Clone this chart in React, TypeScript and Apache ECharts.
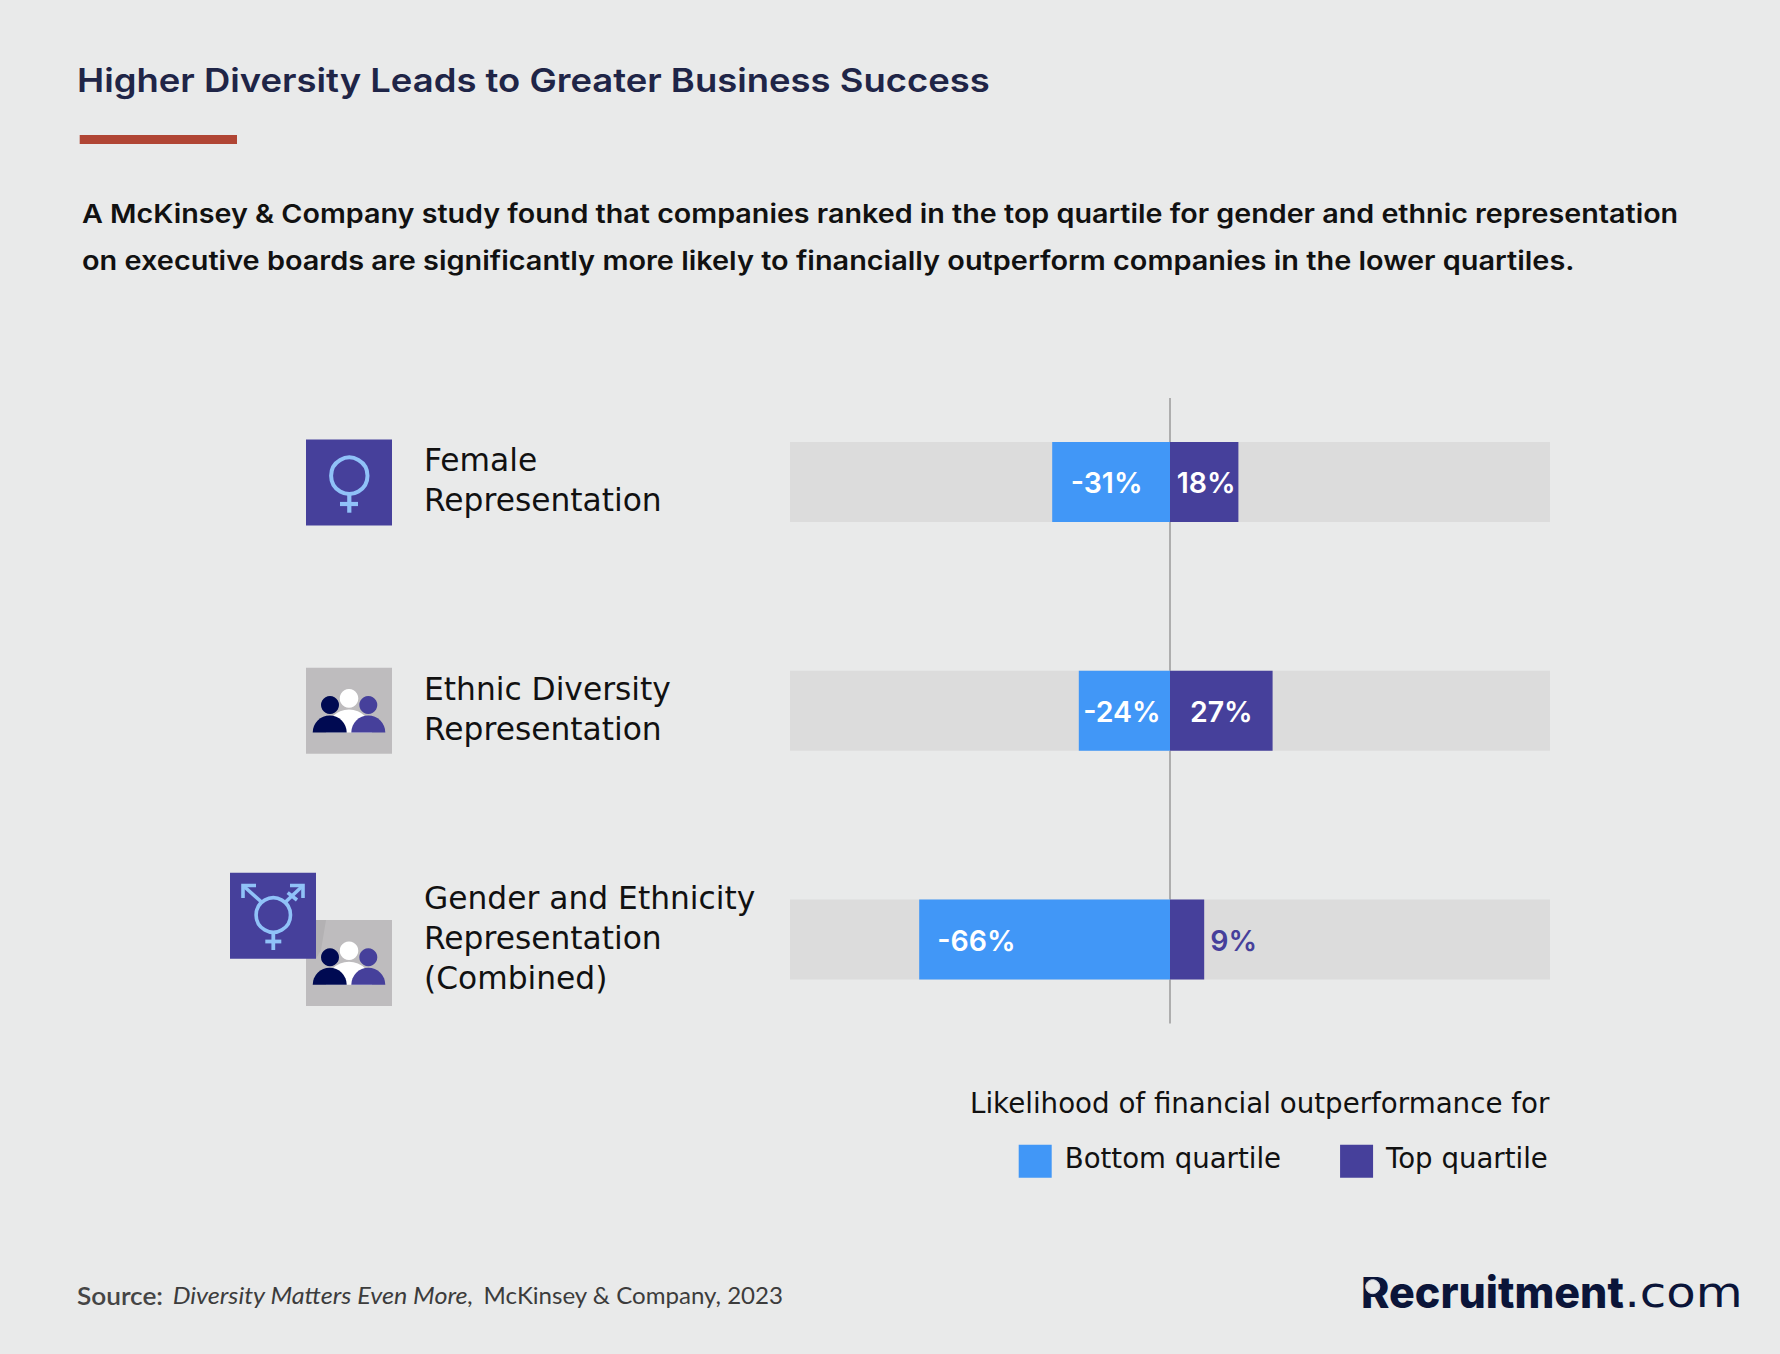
import React, { useEffect, useRef } from "react";
import * as echarts from "echarts";

const categories = ["Female\nRepresentation", "Ethnic Diversity\nRepresentation", "Gender and Ethnicity\nRepresentation\n(Combined)"];
const bottomQuartile = [-31, -24, -66];
const topQuartile = [18, 27, 9];
const titleText = "Higher Diversity Leads to Greater Business Success";
const introLines = [
  "A McKinsey & Company study found that companies ranked in the top quartile for gender and ethnic representation",
  "on executive boards are significantly more likely to financially outperform companies in the lower quartiles.",
];
const legendHeading = "Likelihood of financial outperformance for";

const BG = "#e9eaea";
const BLUE = "#4197f7";
const PURPLE = "#46409b";
const LIGHT = "#90c2f8";
const NAVY = "#000a52";
const FONT = "Inter";
const WIDE = "DejaVu Sans";

const txt = (x: number, y: number, text: string, fontSize: number, fontWeight: any, fill: string, scaleX = 1, family = FONT) => ({
  type: "text", x, y, scaleX, silent: true,
  style: { text, fontSize, fontWeight, fontFamily: family, fill, verticalAlign: "middle", align: "left" },
});
const stroke = (shape: any, lineWidth: number) => ({ type: "line", shape, style: { stroke: LIGHT, lineWidth }, silent: true });
const poly = (points: number[][], lineWidth: number) => ({ type: "polyline", shape: { points }, style: { stroke: LIGHT, lineWidth, fill: "none" }, silent: true });

const people = (top: number) => {
  const base = top + 64.7;
  const half = (cx: number, r: number, fill: string) => ({
    type: "sector", shape: { cx, cy: base, r, r0: 0, startAngle: Math.PI, endAngle: Math.PI * 2 }, style: { fill }, silent: true,
  });
  const head = (cx: number, cy: number, r: number, fill: string) => ({
    type: "circle", shape: { cx, cy, r }, style: { fill }, silent: true,
  });
  return [
    { type: "rect", shape: { x: 306, y: top, width: 86, height: 86 }, style: { fill: "#bebcbe" }, silent: true },
    half(349, 23, "#ffffff"),
    head(349, top + 30.7, 9.3, "#ffffff"),
    head(330, top + 37.3, 9, NAVY),
    head(368.3, top + 37.3, 9, PURPLE),
    half(329.7, 17, NAVY),
    half(368.3, 17, PURPLE),
  ];
};

const graphics: any[] = [
  { type: "rect", shape: { x: 79.7, y: 135, width: 157.3, height: 9 }, style: { fill: "#b04534" }, silent: true },
  txt(77, 80, titleText, 33, 600, "#1f2547", 1.104),
  txt(82, 214, introLines[0], 26, 600, "#111111", 1.104),
  txt(82, 261, introLines[1], 26, 600, "#111111", 1.111),
  // female icon
  { type: "rect", shape: { x: 306, y: 439.5, width: 86, height: 86 }, style: { fill: PURPLE }, silent: true },
  { type: "circle", shape: { cx: 349.3, cy: 475.7, r: 18.2 }, style: { fill: "none", stroke: LIGHT, lineWidth: 4 }, silent: true },
  stroke({ x1: 349.3, y1: 494, x2: 349.3, y2: 512.7 }, 4.2),
  stroke({ x1: 340, y1: 504, x2: 358, y2: 504 }, 4.2),
  // people icons
  ...people(667.7),
  ...people(920),
  { type: "polygon", shape: { points: [[316, 920], [326, 920], [321, 950], [316, 958.7]] }, style: { fill: "#b3b1b3" }, silent: true },
  // combined gender icon
  { type: "rect", shape: { x: 230, y: 872.7, width: 86, height: 86 }, style: { fill: PURPLE }, silent: true },
  { type: "circle", shape: { cx: 273.3, cy: 915, r: 17.2 }, style: { fill: "none", stroke: LIGHT, lineWidth: 3.6 }, silent: true },
  stroke({ x1: 273.3, y1: 933, x2: 273.3, y2: 950 }, 3.8),
  stroke({ x1: 265.3, y1: 941.5, x2: 281.3, y2: 941.5 }, 3.8),
  stroke({ x1: 243.5, y1: 886, x2: 261.5, y2: 902 }, 3.6),
  stroke({ x1: 302.5, y1: 886, x2: 285.5, y2: 902 }, 3.6),
  poly([[243, 898], [243, 885.5], [256, 885.5]], 3.6),
  poly([[290, 885.5], [303, 885.5], [303, 898]], 3.6),
  stroke({ x1: 287.7, y1: 892.7, x2: 297, y2: 900 }, 3.6),
  // legend heading
  txt(970, 1103, legendHeading, 27.7, 400, "#111111", 1, WIDE),
  // source
  {
    type: "text", x: 77, y: 1295, scaleX: 1.07, silent: true,
    style: {
      text: "{a|Source:}{b|Diversity Matters Even More,}{c|McKinsey & Company, 2023}",
      verticalAlign: "middle", align: "left",
      rich: {
        a: { fontFamily: "Lato", fontSize: 24.5, fontWeight: 600, fill: "#454545", padding: [0, 9, 0, 0] },
        b: { fontFamily: "Lato", fontSize: 23.5, fontStyle: "italic", fill: "#3c3c3c", padding: [0, 9, 0, 0] },
        c: { fontFamily: "Lato", fontSize: 22.5, fill: "#3c3c3c" },
      },
    },
  },
  // logo
  txt(1361, 1292, "Recruitment", 43, 800, "#0b1539"),
  txt(1624.5, 1292, ".com", 43, 400, "#0b1539", 1.12, WIDE),
  { type: "circle", shape: { cx: 1372.7, cy: 1286.7, r: 7 }, style: { fill: BG, stroke: "#cfd3de", lineWidth: 1 }, silent: true },
];

const valueLabel = (extra: any = {}) => ({
  show: true, position: "inside", color: "#ffffff", fontFamily: FONT, fontSize: 28.5, fontWeight: 600,
  formatter: (p: any) => `${p.value}%`, ...extra,
});
const bottomLabels = [{ offset: [-4.5, 1] }, { offset: [-2.5, 1] }, { position: "insideLeft", distance: 18, offset: [0, 1] }];
const topLabels = [{ offset: [2, 1] }, { offset: [0, 1] }, { position: "right", distance: 6, color: PURPLE, offset: [0, 1] }];

const option: any = {
  animation: false,
  backgroundColor: BG,
  grid: [
    { left: 790, width: 760, top: 367.6, height: 686.2 },
    { left: 790, width: 760, top: 398, height: 625.5 },
  ],
  xAxis: [
    { type: "value", min: -100, max: 100, show: false, gridIndex: 0 },
    { type: "value", min: -100, max: 100, show: false, gridIndex: 1 },
  ],
  yAxis: [
    {
      type: "category", data: categories, inverse: true, gridIndex: 0,
      axisLine: { show: false, onZero: false }, axisTick: { show: false }, splitLine: { show: false },
      axisLabel: {
        align: "left", margin: 366, padding: [0, 0, 3.5, 0],
        formatter: (v: string) => v.split("\n").map((s) => `{t|${s}}`).join("\n"),
        rich: { t: { fontFamily: WIDE, fontSize: 31.3, fontWeight: 400, lineHeight: 40, color: "#111111" } },
      },
    },
    { type: "value", min: 0, max: 1, show: false, gridIndex: 1 },
  ],
  legend: {
    data: ["Bottom quartile", "Top quartile"],
    left: 1018.7, top: 1144.7, padding: 0, itemWidth: 33, itemHeight: 33, itemGap: 59, icon: "rect",
    selectedMode: false,
    formatter: (name: string) => `{t|${name}}`,
    textStyle: {
      padding: [0, 0, 4.5, 8],
      rich: { t: { fontFamily: WIDE, fontSize: 27.6, color: "#111111" } },
    },
  },
  series: [
    {
      type: "line", xAxisIndex: 1, yAxisIndex: 1, data: [[0, 0], [0, 1]], symbol: "none", silent: true, z: 1,
      lineStyle: { color: "#9a9a9a", width: 1.5 },
    },
    {
      name: "Bottom quartile", type: "bar", barWidth: 80, barGap: "-100%", z: 2,
      showBackground: true, backgroundStyle: { color: "#dcdcdc" },
      itemStyle: { color: BLUE },
      data: bottomQuartile.map((value, i) => ({ value, label: valueLabel(bottomLabels[i]) })),
    },
    {
      name: "Top quartile", type: "bar", barWidth: 80, barGap: "-100%", z: 3,
      itemStyle: { color: PURPLE },
      data: topQuartile.map((value, i) => ({ value, label: valueLabel(topLabels[i]) })),
    },
  ],
  graphic: graphics,
};

export default function App() {
  const ref = useRef<HTMLDivElement>(null);
  useEffect(() => {
    document.body.style.margin = "0";
    document.body.style.background = BG;
    const chart = echarts.init(ref.current!, undefined, { renderer: "svg" });
    chart.setOption(option);
    return () => chart.dispose();
  }, []);
  return <div ref={ref} style={{ width: 1780, height: 1354 }} />;
}
